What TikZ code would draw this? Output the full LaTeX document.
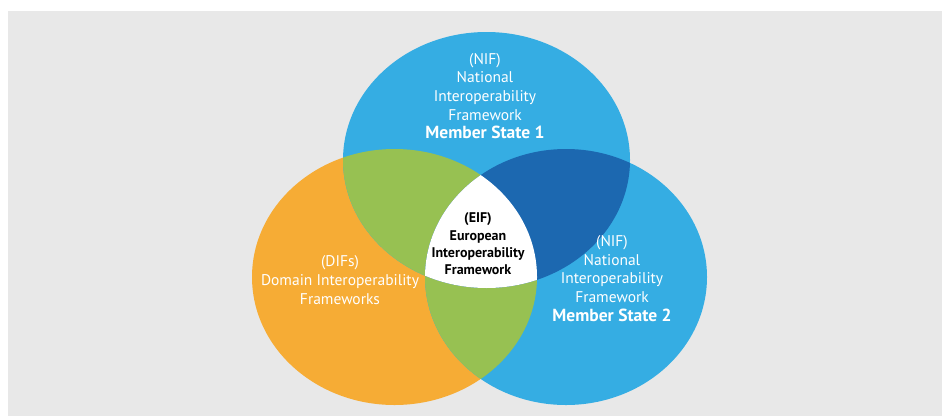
\documentclass[tikz,border=0pt]{standalone}
\usepackage{fontspec}
\setmainfont{PT Sans}
\definecolor{bggray}{HTML}{E8E8E8}
\definecolor{skyblue}{HTML}{35ADE3}
\definecolor{eorange}{HTML}{F6AC35}
\definecolor{egreen}{HTML}{97C152}
\definecolor{darkblue}{HTML}{1C68B0}
\newcommand{\msline}[1]{{\fontsize{17.5}{18.7}\selectfont\bfseries #1}}
\begin{document}
\begin{tikzpicture}[x=1pt,y=-1pt,
  wlabel/.style={align=center,text=white,font=\fontsize{15.5}{18.7}\selectfont,inner sep=0pt},
  clabel/.style={align=center,text=black,font=\bfseries\fontsize{14}{17.3}\selectfont,inner sep=0pt}]
\useasboundingbox (0,0) rectangle (942,416);
\fill[bggray] (8,11) rectangle (942,416);
\def\topE{(486.5,160) ellipse [x radius=143.5pt, y radius=128pt]}
\def\leftE{(394.5,277) ellipse [x radius=142.5pt, y radius=128pt]}
\def\rightE{(566,277) ellipse [x radius=141pt, y radius=128pt]}
\fill[eorange] \leftE;
\fill[skyblue] \topE;
\fill[skyblue] \rightE;
\begin{scope}
  \clip \leftE;
  \fill[egreen] \topE;
  \fill[egreen] \rightE;
\end{scope}
\begin{scope}
  \clip \topE;
  \fill[darkblue] \rightE;
\end{scope}
\begin{scope}
  \clip \topE;
  \clip \leftE;
  \fill[white] \rightE;
\end{scope}
\node[wlabel] (nif1) at (485,96) {(NIF)\\National\\Interoperability\\Framework\\\msline{Member State 1}};
\node[wlabel] (nif2) at (612,278.5) {(NIF)\\National\\Interoperability\\Framework\\\msline{Member State 2}};
\node[wlabel] (difs) at (340,280) {(DIFs)\\Domain Interoperability\\Frameworks};
\node[clabel] (eif) at (478,244) {(EIF)\\European\\Interoperability\\Framework};
\end{tikzpicture}
\end{document}
